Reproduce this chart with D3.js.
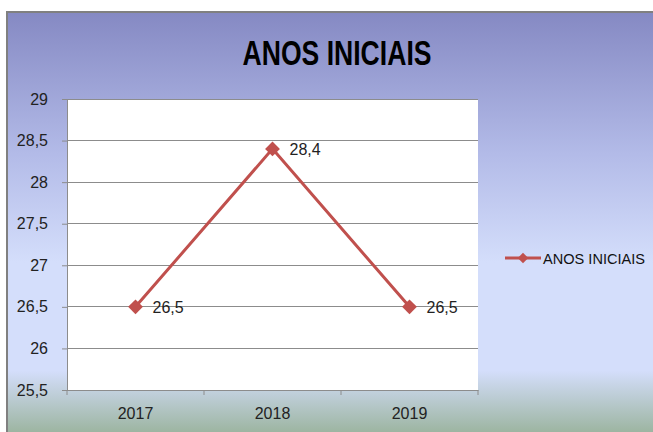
<!DOCTYPE html>
<html><head><meta charset="utf-8">
<script src="https://cdn.jsdelivr.net/npm/d3@7"></script>
<style>body{margin:0;background:#fff}svg{display:block}</style>
</head><body>
<script>
const categories = ["2017", "2018", "2019"];
const values = [26.5, 28.4, 26.5];
const valueLabels = ["26,5", "28,4", "26,5"];
const yTicks = [25.5, 26, 26.5, 27, 27.5, 28, 28.5, 29];
const seriesName = "ANOS INICIAIS";
const title = "ANOS INICIAIS";

const W = 653, H = 432;
const svg = d3.select("body").append("svg").attr("width", W).attr("height", H);
const defs = svg.append("defs");
const g = defs.append("linearGradient").attr("id", "bg").attr("x1", 0).attr("y1", 0).attr("x2", 0).attr("y2", 1);
[[0, "#8589c3"], [0.33, "#b3bbe8"], [0.58, "#d4defb"], [0.83, "#d4defb"], [1, "#92ad90"]].forEach(([o, c]) =>
  g.append("stop").attr("offset", o).attr("stop-color", c));

svg.append("rect").attr("x", 7).attr("y", 12).attr("width", W).attr("height", H).attr("fill", "url(#bg)")
  .attr("stroke", "#808080").attr("stroke-width", 2);

const font = "'Liberation Sans', sans-serif";
svg.append("text").attr("x", 337).attr("y", 65).attr("text-anchor", "middle")
  .attr("font-family", font).attr("font-weight", "bold").attr("font-size", 35)
  .attr("textLength", 189).attr("lengthAdjust", "spacingAndGlyphs").attr("fill", "#000").text(title);

const L = 67, R = 478, T = 99, B = 390;
const x = d3.scaleBand().domain(categories).range([L, R]);
const y = d3.scaleLinear().domain([25.5, 29]).range([B, T]);

svg.append("rect").attr("x", L).attr("y", T).attr("width", R - L).attr("height", B - T).attr("fill", "#fff");

// gridlines
svg.append("g").selectAll("line").data(yTicks).join("line")
  .attr("x1", L).attr("x2", R).attr("y1", d => y(d)).attr("y2", d => y(d))
  .attr("stroke", "#8c8c8c").attr("stroke-width", 1).attr("shape-rendering", "crispEdges");

const fmt = d => String(d).replace(".", ",");
const yAxis = svg.append("g").attr("transform", `translate(${L},0)`)
  .call(d3.axisLeft(y).tickValues(yTicks).tickFormat(fmt).tickSize(5).tickPadding(14));
yAxis.select(".domain").attr("stroke", "#8c8c8c");
yAxis.selectAll(".tick line").attr("stroke", "#8c8c8c");
yAxis.selectAll("text").attr("font-family", font).attr("font-size", 16).attr("fill", "#222");

const xAxis = svg.append("g").attr("transform", `translate(0,${B})`)
  .call(d3.axisBottom(x).tickSize(0).tickPadding(18));
xAxis.select(".domain").attr("stroke", "#8c8c8c");
xAxis.selectAll("text").attr("font-family", font).attr("font-size", 16).attr("fill", "#222");
svg.append("g").selectAll("line").data(d3.range(categories.length + 1)).join("line")
  .attr("x1", i => L + i * x.step()).attr("x2", i => L + i * x.step())
  .attr("y1", B).attr("y2", B + 5).attr("stroke", "#8c8c8c");

const cx = d => x(d) + x.bandwidth() / 2;
const pts = categories.map((c, i) => [cx(c), y(values[i])]);
svg.append("path").attr("d", d3.line()(pts)).attr("fill", "none").attr("stroke", "#c0504d").attr("stroke-width", 3);
svg.append("g").selectAll("path").data(pts).join("path")
  .attr("transform", d => `translate(${d[0]},${d[1]}) rotate(45)`)
  .attr("d", d3.symbol().type(d3.symbolSquare).size(110)()).attr("fill", "#c0504d");
svg.append("g").selectAll("text").data(pts).join("text")
  .attr("x", d => d[0] + 17).attr("y", d => d[1] + 6)
  .attr("font-family", font).attr("font-size", 16).attr("fill", "#222")
  .text((d, i) => valueLabels[i]);

// legend
const ly = 258;
svg.append("line").attr("x1", 505).attr("x2", 541).attr("y1", ly).attr("y2", ly).attr("stroke", "#c0504d").attr("stroke-width", 3);
svg.append("path").attr("transform", `translate(523,${ly}) rotate(45)`)
  .attr("d", d3.symbol().type(d3.symbolSquare).size(55)()).attr("fill", "#c0504d");
svg.append("text").attr("x", 543).attr("y", ly + 6).attr("font-family", font).attr("font-size", 15)
  .attr("textLength", 102).attr("lengthAdjust", "spacingAndGlyphs").attr("fill", "#111").text(seriesName);
</script>
</body></html>
